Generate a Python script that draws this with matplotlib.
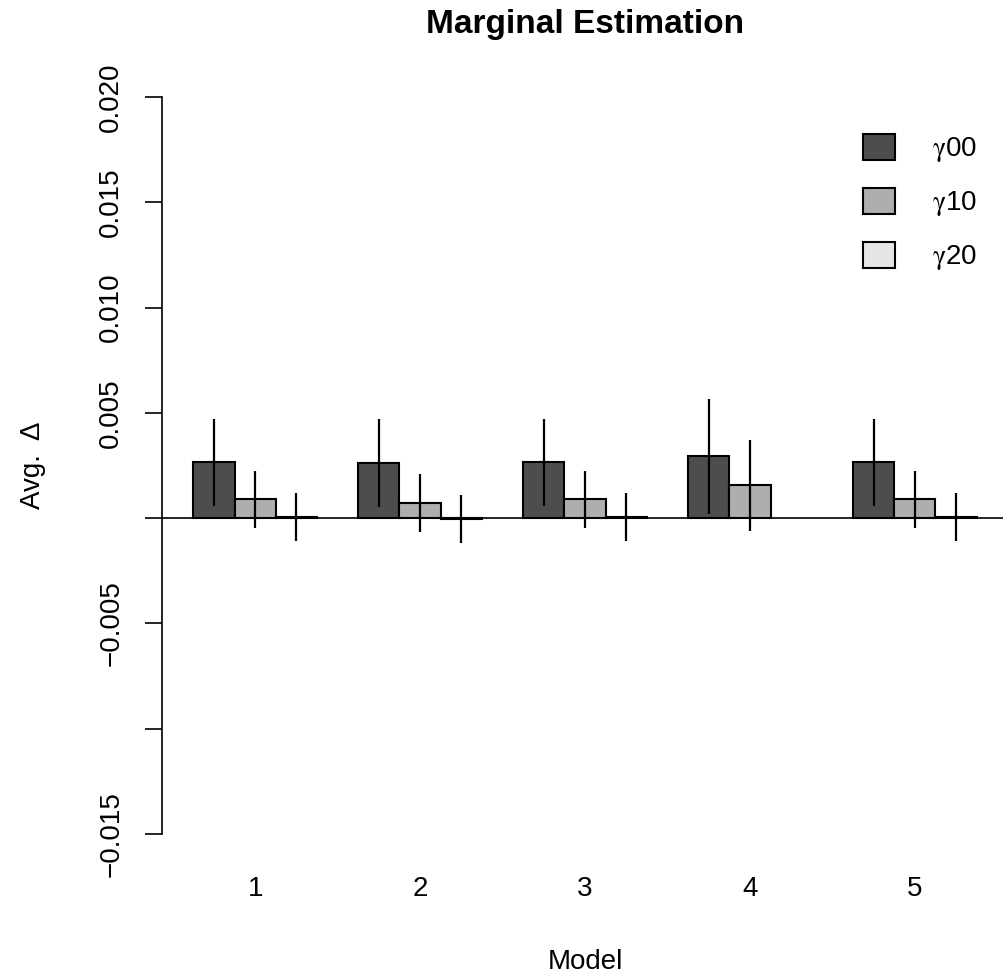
import numpy as np
import matplotlib
matplotlib.use("Agg")
import matplotlib.pyplot as plt
from matplotlib.patches import Patch

plt.rcParams['font.family'] = ['Liberation Sans', 'DejaVu Sans']
plt.rcParams['mathtext.fontset'] = 'stix'

# Data: average Delta per model for each coefficient, with +/- error half-widths
models = ["1", "2", "3", "4", "5"]
series_labels = [r"$\mathrm{\gamma}$00", r"$\mathrm{\gamma}$10", r"$\mathrm{\gamma}$20"]
gamma00 = [0.00265, 0.00263, 0.00265, 0.00294, 0.00265]
gamma10 = [0.00089, 0.00073, 0.00089, 0.00156, 0.00089]
gamma20 = [0.00005, -0.00005, 0.00005, np.nan, 0.00005]
err00 = [0.00206, 0.00208, 0.00206, 0.00273, 0.00206]
err10 = [0.00137, 0.00137, 0.00137, 0.00215, 0.00137]
err20 = [0.00115, 0.00114, 0.00113, np.nan, 0.00115]
yticks = [-0.015, -0.010, -0.005, 0.0, 0.005, 0.010, 0.015, 0.020]
yticklabels = ["\u22120.015", "", "\u22120.005", "", "0.005", "0.010", "0.015", "0.020"]

colors = ["#4D4D4D", "#AEAEAE", "#E6E6E6"]

W, H, DPI = 1004, 976, 100
fig = plt.figure(figsize=(W / DPI, H / DPI), dpi=DPI)

# plot region in pixels
left_px, right_px, top_px, bottom_px = 162, 1008, 67.5, 863.5
ax = fig.add_axes([left_px / W, 1 - bottom_px / H,
                   (right_px - left_px) / W, (bottom_px - top_px) / H])

series = [gamma00, gamma10, gamma20]
errors = [err00, err10, err20]
n_groups = len(models)
n_series = len(series)
group_start = 1 + np.arange(n_groups) * (n_series + 1)

for i, (vals, errs) in enumerate(zip(series, errors)):
    vals = np.asarray(vals, dtype=float)
    errs = np.asarray(errs, dtype=float)
    lefts = group_start + i
    ok = ~np.isnan(vals)
    ax.bar(lefts[ok], vals[ok], width=1.0, align='edge', color=colors[i],
           edgecolor='black', linewidth=1.5, zorder=2, label=series_labels[i])
    centers = lefts[ok] + 0.5
    ax.vlines(centers, vals[ok] - errs[ok], vals[ok] + errs[ok],
              color='black', linewidth=1.6, zorder=3)

ax.axhline(0, color='black', linewidth=1.2, zorder=1)

x_lo, x_hi = 1, group_start[-1] + n_series
pad_x = 0.04 * (x_hi - x_lo)
ax.set_xlim(x_lo - pad_x, x_hi + pad_x)
y_lo, y_hi = -0.015, 0.020
pad_y = 0.04 * (y_hi - y_lo)
ax.set_ylim(y_lo - pad_y, y_hi + pad_y)

for s in ['top', 'right', 'bottom']:
    ax.spines[s].set_visible(False)
ax.spines['left'].set_bounds(y_lo, y_hi)
ax.spines['left'].set_linewidth(1.2)

ax.set_yticks(yticks)
ax.set_yticklabels(yticklabels, rotation=90, va='center', fontsize=20)
ax.tick_params(axis='y', length=12.2, width=1.2, pad=15)

ax.set_xticks(group_start + n_series / 2)
ax.set_xticklabels(models, fontsize=20)
ax.tick_params(axis='x', length=0, pad=9)

fig.text((left_px + right_px) / 2 / W, 1 - 24 / H, "Marginal Estimation",
         ha='center', va='center', fontsize=24, fontweight='bold')
fig.text(33 / W, 1 - 465 / H, "Avg.  Δ", rotation=90, ha='center', va='center',
         fontsize=20)
fig.text((left_px + right_px) / 2 / W, 1 - 962 / H, "Model", ha='center',
         va='center', fontsize=20)

handles = [Patch(facecolor=c, edgecolor='black', linewidth=1.5) for c in colors]
leg = ax.legend(handles, series_labels, loc='upper left',
                bbox_to_anchor=(863 / W, 1 - 134 / H),
                bbox_transform=fig.transFigure, frameon=False, fontsize=20,
                handlelength=1.15, handleheight=1.05, handletextpad=1.35,
                labelspacing=0.85, borderpad=0, borderaxespad=0)

fig.savefig("out.png", dpi=DPI, facecolor='white')
